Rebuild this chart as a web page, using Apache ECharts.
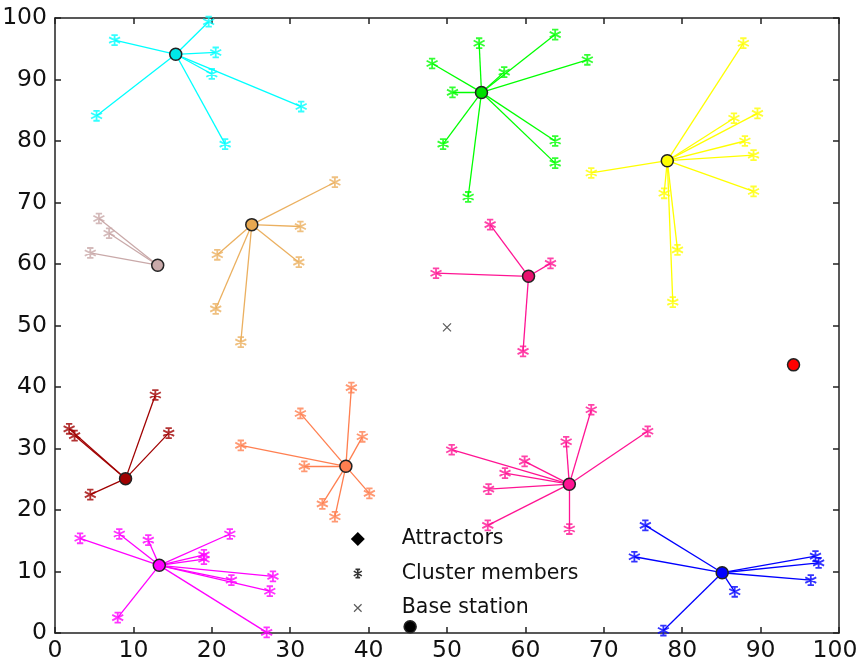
<!DOCTYPE html>
<html><head><meta charset="utf-8">
<script src="https://cdn.jsdelivr.net/npm/echarts@6/dist/echarts.min.js"></script>
<style>html,body{margin:0;padding:0;background:#fff}#c{width:859px;height:669px}</style>
</head><body><div id="c"></div>
<script>
// ---- data ----
const xTicks = [0,10,20,30,40,50,60,70,80,90,100];
const yTicks = [0,10,20,30,40,50,60,70,80,90,100];
const clusterColors = ['#00ffff','#00ff00','#ffff00','#c9a9a9','#ebb060','#ff1493','#a00000','#ff7f50','#ff1493','#ff00ff','#0000ff','#ff0000','#000000'];
const attractorFill = ['#00e8e8','#00e000','#ffff00','#c9a9a9','#e8a850','#e8106e','#a00000','#ff7f50','#ff1493','#ff00ff','#0000ff','#ff0000','#000000'];
const attractorX = [15.4, 54.4, 78.1, 13.1, 25.1, 60.4, 9.0, 37.1, 65.6, 13.3, 85.1, 94.2, 45.3];
const attractorY = [94.1, 87.9, 76.8, 59.8, 66.4, 58.0, 25.1, 27.1, 24.2, 11.0, 9.8, 43.6, 1.0];
const membersCyan = [[7.6,96.4],[19.6,99.4],[20.5,94.4],[20.0,90.9],[31.4,85.6],[21.7,79.5],[5.3,84.1]];
const membersGreen = [[54.1,95.9],[63.8,97.3],[67.9,93.2],[48.1,92.6],[57.3,91.2],[50.7,87.9],[63.8,80.0],[63.8,76.4],[49.5,79.5],[52.7,70.9]];
const membersYellow = [[68.4,74.8],[87.8,95.9],[86.6,83.7],[89.6,84.5],[88.0,80.0],[89.1,77.7],[89.1,71.8],[77.7,71.5],[79.4,62.3],[78.8,53.8]];
const membersRosy = [[5.6,67.4],[6.9,65.0],[4.5,61.8]];
const membersTan = [[35.7,73.3],[31.3,66.1],[31.1,60.3],[20.7,61.5],[20.5,52.7],[23.7,47.3]];
const membersPinkMid = [[55.5,66.4],[63.2,60.1],[48.6,58.5],[59.7,45.8]];
const membersDarkRed = [[12.8,38.7],[14.5,32.5],[1.8,33.2],[2.5,32.1],[4.5,22.5]];
const membersCoral = [[37.8,39.9],[31.3,35.7],[39.2,31.9],[23.7,30.5],[31.8,27.1],[40.1,22.7],[34.1,21.0],[35.7,18.9]];
const membersPinkLow = [[68.4,36.3],[75.6,32.8],[65.2,31.1],[50.6,29.8],[59.9,27.9],[57.4,26.0],[55.3,23.4],[55.2,17.5],[65.6,16.9]];
const membersMagenta = [[3.2,15.4],[8.2,16.1],[11.9,15.1],[22.3,16.1],[19.0,12.7],[19.0,12.0],[27.8,9.2],[22.5,8.6],[27.4,6.8],[8.0,2.5],[27.0,0.1]];
const membersBlue = [[75.3,17.5],[73.9,12.4],[97.0,12.5],[97.4,11.4],[96.4,8.6],[86.7,6.7],[77.6,0.4]];
const membersRed = [];
const membersBlack = [];
const baseStation = [[50.0, 49.7]];
const legendNames = ['Attractors','Cluster members','Base station'];

// ---- build ----
const clusters = [membersCyan,membersGreen,membersYellow,membersRosy,membersTan,membersPinkMid,membersDarkRed,membersCoral,membersPinkLow,membersMagenta,membersBlue,membersRed,membersBlack];
const starPath = 'path://M0,-10L0,10M-8.66,-5L8.66,5M-8.66,5L8.66,-5M-5,-9L5,-9M-5,9L5,9';
const starLegendPath = 'path://M-12,-12M12,12M0,-8L0,8M-6.9,-4L6.9,4M-6.9,4L6.9,-4M-4,-7L4,-7M-4,7L4,7';
const xPath = 'path://M-1,-1L1,1M-1,1L1,-1';
const xLegendPath = 'path://M-13,-13M13,13M-7,-7L7,7M-7,7L7,-7';

const lineData = [], memberData = [], attractorData = [];
clusters.forEach((mem, i) => {
  const c = clusterColors[i];
  const cx = attractorX[i], cy = attractorY[i];
  mem.forEach(p => {
    lineData.push({coords: [[cx, cy], p], lineStyle: {color: c}});
    memberData.push({value: p, itemStyle: {color: 'transparent', borderColor: c, borderWidth: 1.8}});
  });
  attractorData.push({value: [cx, cy], itemStyle: {color: attractorFill[i]}});
});

const font = 'DejaVu Sans, sans-serif';
const axisCommon = {
  type: 'value', min: 0, max: 100, interval: 10,
  splitLine: {show: false},
  axisLine: {show: true, onZero: false, lineStyle: {color: '#222', width: 1.5}},
  axisTick: {show: true, inside: true, length: 6, lineStyle: {color: '#222', width: 1.5}},
};
const chart = echarts.init(document.getElementById('c'), null, {renderer: 'canvas'});
chart.setOption({
  animation: false,
  backgroundColor: '#fff',
  grid: {left: 55, top: 18, right: 20, bottom: 36, containLabel: false, outerBoundsMode: 'none'},
  xAxis: [
    Object.assign({}, axisCommon, {position: 'bottom', axisLabel: {show: true, fontSize: 23.5, fontFamily: font, color: '#111', margin: 6,
      formatter: v => v === xTicks[xTicks.length - 1] ? '{m|' + v + '}' : String(v),
      rich: {m: {fontSize: 23.5, fontFamily: font, color: '#111', padding: [0, 8, 0, 0]}}}}),
    Object.assign({}, axisCommon, {position: 'top', axisLabel: {show: false}})
  ],
  yAxis: [
    Object.assign({}, axisCommon, {position: 'left', axisLabel: {show: true, fontSize: 23.5, fontFamily: font, color: '#111', margin: 8}}),
    Object.assign({}, axisCommon, {position: 'right', axisLabel: {show: false}})
  ],
  legend: {
    orient: 'vertical', left: 345, top: 522, itemWidth: 14, itemHeight: 14, itemGap: 10.5,
    selectedMode: false,
    textStyle: {fontSize: 20.5, fontFamily: font, color: '#111', padding: [0, 0, 0, 32], lineHeight: 24},
    data: [
      {name: legendNames[0], icon: 'diamond', itemStyle: {color: '#000', borderWidth: 0}},
      {name: legendNames[1], icon: starLegendPath, itemStyle: {color: 'transparent', borderColor: '#000', borderWidth: 1.6}},
      {name: legendNames[2], icon: xLegendPath, itemStyle: {color: 'transparent', borderColor: '#333', borderWidth: 1.2}}
    ]
  },
  series: [
    {type: 'lines', coordinateSystem: 'cartesian2d', xAxisIndex: 0, yAxisIndex: 0, silent: true, z: 1,
     lineStyle: {width: 1.3, opacity: 1}, data: lineData},
    {name: legendNames[1], type: 'scatter', xAxisIndex: 0, yAxisIndex: 0, z: 2, symbol: starPath, symbolSize: 11, data: memberData},
    {name: legendNames[2], type: 'scatter', xAxisIndex: 0, yAxisIndex: 0, z: 2, symbol: xPath, symbolSize: 8,
     itemStyle: {color: 'transparent', borderColor: '#333', borderWidth: 1.3}, data: baseStation},
    {name: legendNames[0], type: 'scatter', xAxisIndex: 0, yAxisIndex: 0, z: 3, symbol: 'circle', symbolSize: 12,
     itemStyle: {borderColor: '#222', borderWidth: 1.5, opacity: 1}, data: attractorData}
  ]
});
</script></body></html>
